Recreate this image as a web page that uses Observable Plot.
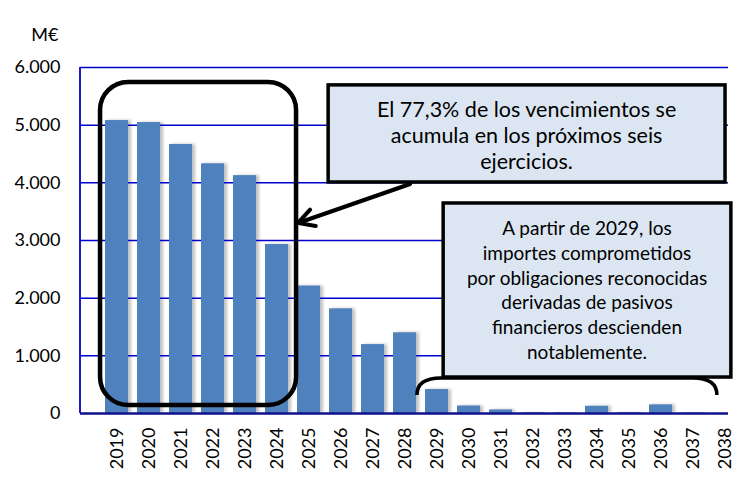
<!DOCTYPE html>
<html>
<head>
<meta charset="utf-8">
<script src="https://cdn.jsdelivr.net/npm/d3@7"></script>
<script src="https://cdn.jsdelivr.net/npm/@observablehq/plot@0.6"></script>
<style>
  html, body { margin: 0; padding: 0; background: white; }
</style>
</head>
<body>
<div id="chart"></div>
<script>
const years = [2019, 2020, 2021, 2022, 2023, 2024, 2025, 2026, 2027, 2028,
               2029, 2030, 2031, 2032, 2033, 2034, 2035, 2036, 2037, 2038];
const values = [5080, 5045, 4665, 4330, 4125, 2930, 2210, 1815, 1195, 1400,
                415, 130, 62, 10, 8, 125, 12, 150, 6, 0];
const yTicks = [0, 1000, 2000, 3000, 4000, 5000, 6000];
const unitLabel = "M€";
const note1 = ["El 77,3% de los vencimientos se", "acumula en los próximos seis", "ejercicios."];
const note2 = ["A partir de 2029, los", "importes comprometidos", "por obligaciones reconocidas",
               "derivadas de pasivos", "financieros descienden", "notablemente."];

const data = years.map((yr, i) => ({year: String(yr), value: values[i]}));
const fmt = d => d3.format(",")(d).replace(/,/g, ".");

const W = 735, H = 480, mL = 80, mR = 7, mT = 67, mB = 67;
const xRange = [96.8, 744.8];

const plot = Plot.plot({
  width: W, height: H,
  marginLeft: mL, marginRight: mR, marginTop: mT, marginBottom: mB,
  style: {fontFamily: "Lato", fontSize: "18px", background: "white", color: "black", overflow: "visible"},
  x: {type: "band", domain: years.map(String), range: xRange, paddingInner: 0.28, paddingOuter: 0.14,
      label: null, tickRotate: -90, tickSize: 0, tickPadding: 14},
  y: {domain: [0, 6000], ticks: yTicks, tickFormat: fmt, tickSize: 0, tickPadding: 20, label: null},
  marks: [
    Plot.barY(data, {x: "year", y: "value", fill: "#8c8c8c", fillOpacity: 0.55, dx: 3}),
    Plot.ruleY(yTicks.slice(1), {stroke: "#0000cc", strokeWidth: 1.5}),
    Plot.barY(data, {x: "year", y: "value", fill: "#4f81bd"}),
    Plot.ruleY([0], {stroke: "#10108c", strokeWidth: 2.5}),
    Plot.text([unitLabel], {frameAnchor: "top-left", dx: -22, dy: -39, textAnchor: "end", fontSize: 18})
  ]
});
document.getElementById("chart").appendChild(plot);

// annotation overlay in data coordinates
const svg = d3.select(plot);
const step = (xRange[1] - xRange[0]) / years.length;
const px = yr => xRange[0] + step / 2 + (yr - years[0]) * step;
const py = d3.scaleLinear([0, 6000], [H - mB, mT]);

const defs = svg.append("defs");
defs.append("filter").attr("id", "sh").attr("x", "-50%").attr("width", "200%")
  .append("feGaussianBlur").attr("stdDeviation", 1.8);
const barGroups = plot.querySelectorAll('g[aria-label="bar"]');
if (barGroups.length) barGroups[0].setAttribute("filter", "url(#sh)");

const g = svg.append("g");
// left axis line
g.append("line").attr("x1", mL).attr("x2", mL).attr("y1", py(0)).attr("y2", py(6000))
  .attr("stroke", "#0000cc").attr("stroke-width", 1.8);

// rounded frame around 2019-2024
const fx1 = px(2018.6), fx2 = px(2024.65), fy1 = py(5740), fy2 = py(140);
g.append("rect").attr("x", fx1).attr("y", fy1).attr("width", fx2 - fx1).attr("height", fy2 - fy1)
  .attr("rx", 28).attr("fill", "none").attr("stroke", "black").attr("stroke-width", 4.5);

// arrow
const ax0 = px(2028.17), ay0 = py(3971), ax1 = px(2024.71), ay1 = py(3295);
g.append("line").attr("x1", ax0).attr("y1", ay0).attr("x2", ax1).attr("y2", ay1)
  .attr("stroke", "black").attr("stroke-width", 4).attr("stroke-linecap", "round");
const ang = Math.atan2(ay0 - ay1, ax0 - ax1);
const hl = 18, ha = 0.5;
g.append("path")
  .attr("d", `M${ax1 + hl * Math.cos(ang + ha)},${ay1 + hl * Math.sin(ang + ha)} L${ax1},${ay1} L${ax1 + hl * Math.cos(ang - ha)},${ay1 + hl * Math.sin(ang - ha)}`)
  .attr("fill", "none").attr("stroke", "black").attr("stroke-width", 4)
  .attr("stroke-linecap", "round").attr("stroke-linejoin", "miter");

// bracket under note 2
const bx1 = px(2028.38), bx2 = px(2037.64), byB = py(312), byT = py(607);
g.append("path")
  .attr("d", `M${bx1},${byB} Q${bx1},${byT} ${bx1 + 24},${byT} L${bx2 - 24},${byT} Q${bx2},${byT} ${bx2},${byB}`)
  .attr("fill", "none").attr("stroke", "black").attr("stroke-width", 3.5);

function box(x1, x2, v1, v2, lines, fs, lh, firstOff) {
  const X1 = px(x1), X2 = px(x2), Y1 = py(v1), Y2 = py(v2);
  g.append("rect").attr("x", X1).attr("y", Y1).attr("width", X2 - X1).attr("height", Y2 - Y1)
    .attr("fill", "#dce6f2").attr("stroke", "black").attr("stroke-width", 3.5);
  const t = g.append("text").attr("text-anchor", "middle").attr("font-family", "Lato")
    .attr("font-size", fs).attr("fill", "black");
  lines.forEach((s, i) => {
    t.append("tspan").attr("x", (X1 + X2) / 2).attr("y", Y1 + firstOff + i * lh).text(s);
  });
}
box(2025.64, 2037.89, 5690, 4006, note1, 21.5, 26, 32);
box(2029.19, 2038.07, 3642, 624, note2, 19, 24.8, 32);
</script>
</body>
</html>
